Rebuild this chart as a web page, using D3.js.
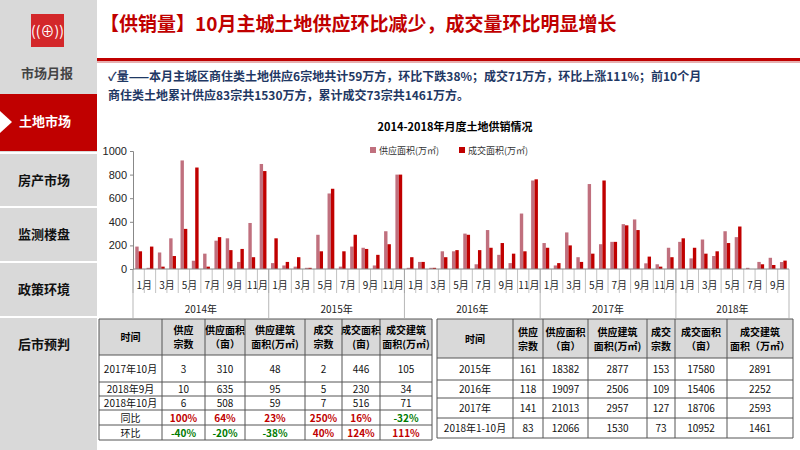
<!DOCTYPE html><html><head><meta charset="utf-8">
<script src="https://cdn.jsdelivr.net/npm/d3@7"></script>
<style>body{margin:0;background:#fff}svg{font-family:"Noto Sans CJK SC",sans-serif}</style></head><body>
<svg id="c" width="800" height="450"></svg>
<script>
const years=["2014年","2015年","2016年","2017年","2018年"];
const monthsPerYear=[12,12,12,12,10];
const supply=[190,10,140,260,920,70,130,240,260,60,390,890,
 50,30,20,10,290,640,20,190,180,30,320,800,
 10,60,10,150,150,300,40,330,120,50,470,750,
 220,30,310,100,720,210,230,380,420,48,40,180,
 230,90,250,110,320,270,10,60,95,59];
const deal=[150,190,20,110,340,860,20,270,160,170,100,830,
 260,60,100,10,150,680,150,290,170,120,210,800,
 100,60,10,100,160,290,160,180,220,130,150,760,
 180,50,200,60,130,750,230,370,330,105,20,100,
 260,180,130,150,220,360,0,40,34,71];
const yTicks=[0,200,400,600,800,1000];
const navItems=["土地市场","房产市场","监测楼盘","政策环境","后市预判"];
const t1Head=["时间","供应宗数","供应面积（亩）","供应建筑面积(万㎡)","成交宗数","成交面积(亩)","成交建筑面积(万㎡)"];
const t1Rows=[["2017年10月","3","310","48","2","446","105"],["2018年9月","10","635","95","5","230","34"],["2018年10月","6","508","59","7","516","71"],["同比","100%","64%","23%","250%","16%","-32%"],["环比","-40%","-20%","-38%","40%","124%","111%"]];
const t2Head=["时间","供应宗数","供应面积（亩）","供应建筑面积(万㎡)","成交宗数","成交面积（亩）","成交建筑面积（万㎡）"];
const t2Rows=[["2015年","161","18382","2877","153","17580","2891"],["2016年","118","19097","2506","109","15406","2252"],["2017年","141","21013","2957","127","18706","2593"],["2018年1-10月","83","12066","1530","73","10952","1461"]];

const svg=d3.select("#c");
svg.append("rect").attr("x",0).attr("y",0).attr("width",97).attr("height",450).attr("fill","#d9d9d9");
svg.append("rect").attr("x",31).attr("y",14).attr("width",33).attr("height",33).attr("fill","#d3272a");
svg.append("text").attr("x",47.5).attr("y",36).attr("text-anchor","middle").attr("fill","#fff").attr("font-size",14).text("((⊕))");
svg.append("text").attr("x",47).attr("y",78).attr("text-anchor","middle").attr("font-size",13).attr("font-weight","bold").attr("fill","#444").text("市场月报");
const navY=[94,153,207,262,317];
navItems.forEach((n,i)=>{
  const y0=navY[i];
  if(i===0){svg.append("rect").attr("x",0).attr("y",y0).attr("width",97).attr("height",57).attr("fill","#c00000");
    svg.append("path").attr("d",`M0,${y0+17}L12,${y0+28}L0,${y0+39}Z`).attr("fill","#fff");}
  else svg.append("line").attr("x1",0).attr("x2",97).attr("y1",y0).attr("y2",y0).attr("stroke","#fff").attr("stroke-width",2);
  svg.append("text").attr("x",i===0?19:18).attr("y",y0+32).attr("font-size",13).attr("font-weight","bold").attr("fill",i===0?"#fff":"#111").text(n);
});
svg.append("text").attr("x",100).attr("y",31).attr("font-size",19).attr("font-weight","bold").attr("fill","#c00000").text("【供销量】10月主城土地供应环比减少，成交量环比明显增长");
svg.append("rect").attr("x",97).attr("y",58).attr("width",703).attr("height",3).attr("fill","#c00000");
svg.append("rect").attr("x",97).attr("y",61).attr("width",703).attr("height",2).attr("fill","#e6b0b0");
svg.append("text").attr("x",108).attr("y",81).attr("font-size",12).attr("font-weight","bold").attr("fill","#1f3864").text("✓量——本月主城区商住类土地供应6宗地共计59万方，环比下跌38%；成交71万方，环比上涨111%；前10个月");
svg.append("text").attr("x",108).attr("y",100).attr("font-size",12).attr("font-weight","bold").attr("fill","#1f3864").text("商住类土地累计供应83宗共1530万方，累计成交73宗共1461万方。");
svg.append("text").attr("x",455).attr("y",131).attr("text-anchor","middle").attr("font-size",11).attr("font-weight","bold").text("2014-2018年月度土地供销情况");
svg.append("rect").attr("x",370).attr("y",147).attr("width",6).attr("height",6).attr("fill","#c0707e");
svg.append("text").attr("x",379).attr("y",154).attr("font-size",9).attr("fill","#333").text("供应面积(万㎡)");
svg.append("rect").attr("x",459).attr("y",147).attr("width",6).attr("height",6).attr("fill","#c00000");
svg.append("text").attr("x",468).attr("y",154).attr("font-size",9).attr("fill","#333").text("成交面积(万㎡)");
const x0=133,x1=789,n=supply.length;
const x=d3.scaleBand().domain(d3.range(n)).range([x0,x1]);
const y=d3.scaleLinear().domain([0,1000]).range([269,151]);
const g=svg.append("g");
g.selectAll(".s").data(supply).join("rect").attr("x",(d,i)=>x(i)+x.bandwidth()*0.2).attr("width",x.bandwidth()*0.3).attr("y",d=>y(d)).attr("height",d=>269-y(d)).attr("fill","#c0707e");
g.selectAll(".d").data(deal).join("rect").attr("x",(d,i)=>x(i)+x.bandwidth()*0.5).attr("width",x.bandwidth()*0.3).attr("y",d=>y(d)).attr("height",d=>269-y(d)).attr("fill","#c00000");
const ya=svg.append("g").attr("transform",`translate(${x0},0)`).call(d3.axisLeft(y).tickValues(yTicks).tickFormat(d3.format("d")).tickSize(3));
ya.selectAll("text").attr("font-size",11).attr("font-family","Arial,Liberation Sans").attr("fill","#222");
ya.selectAll("path,line").attr("stroke","#888");
svg.append("line").attr("x1",x0).attr("x2",x1).attr("y1",269).attr("y2",269).attr("stroke","#888");
let idx=0;
years.forEach((yr,k)=>{
  const m=monthsPerYear[k];
  const a=x(idx), b=idx+m<n?x(idx+m):x1;
  for(let j=0;j<m;j++){
    const xi=x(idx+j);
    svg.append("line").attr("x1",xi).attr("x2",xi).attr("y1",269).attr("y2",293).attr("stroke","#999").attr("stroke-width",0.6);
    if(j%2===0) svg.append("text").attr("x",xi+x.bandwidth()).attr("y",289).attr("text-anchor","middle").attr("font-size",10).attr("fill","#222").text((j+1)+"月");
  }
  svg.append("line").attr("x1",b).attr("x2",b).attr("y1",269).attr("y2",318).attr("stroke","#999").attr("stroke-width",0.7);
  if(k===0) svg.append("line").attr("x1",a).attr("x2",a).attr("y1",269).attr("y2",318).attr("stroke","#999").attr("stroke-width",0.7);
  svg.append("text").attr("x",(a+b)/2).attr("y",313).attr("text-anchor","middle").attr("font-size",10).attr("fill","#222").text(yr);
  idx+=m;
});
function table(cols,rows,head,body,colorRows){
  const tg=svg.append("g");
  const wrapHead=h=>{ if(h.length<=3)return [h]; const k=Math.ceil(h.length/2); return [h.slice(0,h.length>6?4:k),h.slice(h.length>6?4:k)];};
  tg.append("rect").attr("x",cols[0]).attr("y",rows[0]).attr("width",cols[cols.length-1]-cols[0]).attr("height",rows[1]-rows[0]).attr("fill","#d9d9d9");
  head.forEach((h,i)=>{const cx=(cols[i]+cols[i+1])/2, lines=wrapHead(h);
    lines.forEach((l,j)=>tg.append("text").attr("x",cx).attr("y",(rows[0]+rows[1])/2+4+(j-(lines.length-1)/2)*14).attr("text-anchor","middle").attr("font-size",10).attr("font-weight","bold").text(l));});
  body.forEach((r,ri)=>r.forEach((c,ci)=>{
    let fill="#111",fw="normal";
    if(colorRows&&ri>=3&&ci>0){fw="bold";fill=c.startsWith("-")?"#007a00":"#c00000";}
    tg.append("text").attr("x",(cols[ci]+cols[ci+1])/2).attr("y",(rows[ri+1]+rows[ri+2])/2+4).attr("text-anchor","middle").attr("font-size",10).attr("font-weight",fw).attr("fill",fill).text(c);}));
  cols.forEach(c=>tg.append("line").attr("x1",c).attr("x2",c).attr("y1",rows[0]).attr("y2",rows[rows.length-1]).attr("stroke","#555"));
  rows.forEach(r=>tg.append("line").attr("x1",cols[0]).attr("x2",cols[cols.length-1]).attr("y1",r).attr("y2",r).attr("stroke","#555"));
}
table([99,162,205,245,305,342,380,432],[319,355,382,396,410,425,440],t1Head,t1Rows,true);
table([437,513,543,588,647,675,727,793],[319,358,380,398,418,438],t2Head,t2Rows,false);
</script></body></html>
